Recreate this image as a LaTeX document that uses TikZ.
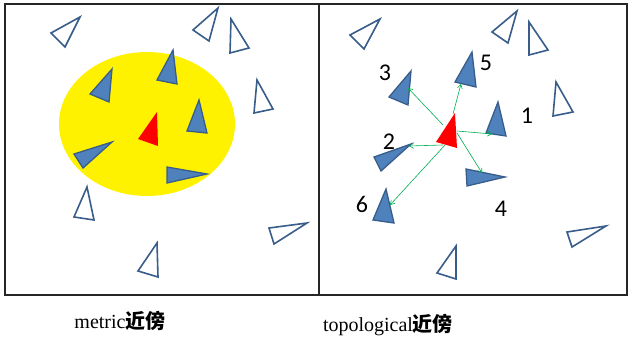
\documentclass[tikz,border=0pt]{standalone}
\usepackage{fontspec}
\setmainfont{Liberation Serif}
\newfontfamily\cjk{Noto Sans CJK SC}
\newfontfamily\numfont{Carlito}
\usetikzlibrary{arrows.meta}
\definecolor{tribord}{HTML}{385D8A}
\definecolor{trifill}{HTML}{4F81BD}
\definecolor{arrgreen}{HTML}{00B050}
\tikzset{
  hollow/.style={draw=tribord, line width=1.6pt, line join=miter, fill=white},
  solidtri/.style={draw=tribord, line width=1.3pt, fill=trifill},
  redtri/.style={fill=red},
  frame/.style={draw=black!85, line width=1.6pt},
  link/.style={draw=arrgreen, line width=0.6pt, -{Straight Barb[length=4pt,width=5pt]}},
  num/.style={font=\numfont\fontsize{24}{24}\selectfont, inner sep=0pt},
  captext/.style={font=\fontsize{20}{22}\selectfont, inner sep=0pt, anchor=base}
}
\begin{document}
\begin{tikzpicture}[x=1pt,y=-1pt]
\useasboundingbox (0,0) rectangle (629,345);
% frames
\draw[frame] (5,4) rectangle (627,295);
\draw[frame] (319,4) -- (319,295);
% ---- left panel ----
\fill[yellow] (147,124) ellipse [x radius=88, y radius=72];
\draw[hollow] (51,33) -- (80,17) -- (65,47) -- cycle;
\draw[hollow] (193,30) -- (218,8) -- (209,41) -- cycle;
\draw[hollow] (231,19) -- (249,48) -- (230,53) -- cycle;
\draw[hollow] (257,80) -- (273,109) -- (254,113) -- cycle;
\draw[hollow] (87,187) -- (94,220) -- (74,217) -- cycle;
\draw[hollow] (269,228) -- (307,223) -- (274,244) -- cycle;
\draw[hollow] (157,243) -- (158,277) -- (138,271) -- cycle;
\draw[solidtri] (112,69) -- (109,102) -- (90,94) -- cycle;
\draw[solidtri] (173,50) -- (177,84) -- (157,80) -- cycle;
\draw[solidtri] (199,100) -- (207,133) -- (187,131) -- cycle;
\draw[solidtri] (112,142) -- (83,168) -- (74,154) -- cycle;
\draw[solidtri] (167,167) -- (207,174) -- (167,183) -- cycle;
\fill[redtri] (157,112) -- (158,146) -- (138,139) -- cycle;
% ---- right panel ----
\draw[hollow] (350,35) -- (380,19) -- (364,49) -- cycle;
\draw[hollow] (492,32) -- (517,11) -- (508,43) -- cycle;
\draw[hollow] (529,22) -- (548,50) -- (529,55) -- cycle;
\draw[hollow] (556,82) -- (573,112) -- (553,116) -- cycle;
\draw[hollow] (567,232) -- (606,226) -- (572,247) -- cycle;
\draw[hollow] (456,246) -- (456,279) -- (437,273) -- cycle;
\draw[solidtri] (472,52) -- (476,87) -- (455,82) -- cycle;
\draw[solidtri] (411,71) -- (408,105) -- (389,97) -- cycle;
\draw[solidtri] (498,102) -- (506,136) -- (486,133) -- cycle;
\draw[solidtri] (411,144) -- (381,171) -- (374,157) -- cycle;
\draw[solidtri] (466,169) -- (505,177) -- (467,186) -- cycle;
\draw[solidtri] (386,189) -- (394,223) -- (373,220) -- cycle;
\fill[redtri] (455,113) -- (457,148) -- (436,142) -- cycle;
% arrow endpoints
\coordinate (s3) at (443,125); \coordinate (e3) at (408,88);
\coordinate (s5) at (453,114); \coordinate (e5) at (461,84);
\coordinate (s1) at (457,131); \coordinate (e1) at (492,134);
\coordinate (s4) at (457,133); \coordinate (e4) at (482,173);
\coordinate (s2) at (443,145); \coordinate (e2) at (409,146);
\coordinate (s6) at (445,145); \coordinate (e6) at (390,205);
\draw[link] (s3) -- (e3);
\draw[link] (s5) -- (e5);
\draw[link] (s1) -- (e1);
\draw[link] (s4) -- (e4);
\draw[link] (s2) -- (e2);
\draw[link] (s6) -- (e6);
% numbers
\node[num] (n5) at (486,63) {5};
\node[num] (n3) at (385,73) {3};
\node[num] (n1) at (527,116) {1};
\node[num] (n2) at (389,142) {2};
\node[num] (n6) at (362,204) {6};
\node[num] (n4) at (501,209) {4};
% captions
\node[captext] (cm) at (120,328) {metric{\cjk\bfseries 近傍}};
\node[captext] (ct) at (388,331) {topological{\cjk\bfseries 近傍}};
\end{tikzpicture}
\end{document}
